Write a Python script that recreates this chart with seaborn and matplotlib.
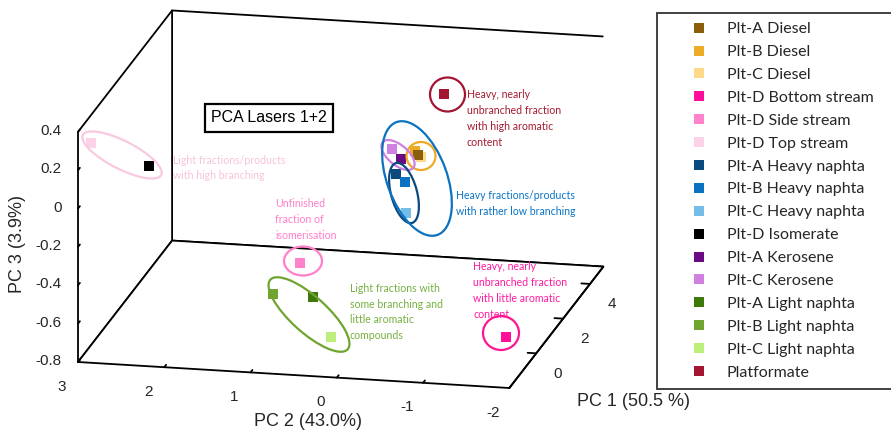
import numpy as np
import matplotlib
matplotlib.use("Agg")
import matplotlib.pyplot as plt
from matplotlib.patches import Ellipse
from matplotlib.lines import Line2D
from mpl_toolkits.mplot3d import proj3d
import seaborn as sns

# ---------------- data ----------------
samples = ["Plt-A Diesel", "Plt-B Diesel", "Plt-C Diesel", "Plt-D Bottom stream",
           "Plt-D Side stream", "Plt-D Top stream", "Plt-A Heavy naphta",
           "Plt-B Heavy naphta", "Plt-C Heavy naphta", "Plt-D Isomerate",
           "Plt-A Kerosene", "Plt-C Kerosene", "Plt-A Light naphta",
           "Plt-B Light naphta", "Plt-C Light naphta", "Platformate"]
pc1 = [3.5, 3.6, 3.4, -0.8, 0.5, -1.5, 2.5, 2.5, 2.0, -1.0, 3.0, 3.0, 0.5, 0.0, -0.5, 3.5]
pc2 = [-0.08, -0.03, -0.14, -1.78, 0.82, 2.93, 0.01, -0.085, -0.175, 2.33,
       0.03, 0.14, 0.67, 1.05, 0.305, -0.38]
pc3 = [-0.137, -0.126, -0.136, -0.649, -0.452, 0.299, -0.147, -0.187, -0.300, 0.150,
       -0.115, -0.066, -0.625, -0.574, -0.733, 0.190]
colors = ["#8B5E0A", "#EDAA25", "#FFD98A", "#FF0D9B", "#FF80CB", "#FBD2E8",
          "#0B4A7E", "#0A72C0", "#74BDE8", "#000000", "#6B0A85", "#CF80E0",
          "#3E7A0A", "#6FA52E", "#BDED7A", "#A31531"]
draw_order = [2, 1, 0, 3, 4, 5, 6, 7, 8, 9, 11, 10, 12, 13, 14, 15]

pc1_ticks = [0, 2, 4]
pc2_ticks = [3, 2, 1, 0, -1, -2]
pc3_ticks = [-0.8, -0.6, -0.4, -0.2, 0, 0.2, 0.4]
pc1_lim = (-2, 5)
pc2_lim = (-2, 3)
pc3_lim = (-0.8, 0.4)

# ---------------- style ----------------
sns.set_style("white")
palette = sns.color_palette(colors)
plt.rcParams['font.family'] = ['Liberation Sans', 'DejaVu Sans']
plt.rcParams['axes.unicode_minus'] = False
plt.rcParams['xtick.bottom'] = True
plt.rcParams['ytick.left'] = True

W, H = 891, 432
fig = plt.figure(figsize=(W / 100, H / 100), dpi=100)
ax = fig.add_subplot(projection='3d', computed_zorder=False)
ax.set_proj_type('ortho')
ax.view_init(elev=16.2, azim=-167.8)
ax.set_box_aspect((446, 442, 240))

for i in draw_order:
    ax.scatter([pc1[i]], [pc2[i]], [pc3[i]], marker='s', s=50, color=palette[i],
               depthshade=False, linewidths=0)

ax.set_xlim(*pc1_lim)
ax.set_ylim(*pc2_lim)
ax.set_zlim(*pc3_lim)
ax.set_xticks(pc1_ticks)
ax.set_yticks(pc2_ticks)
ax.set_zticks(pc3_ticks)
ax.set_xticklabels([])
ax.set_yticklabels([])
ax.set_zticklabels([])
ax.grid(False)

for axis in (ax.xaxis, ax.yaxis, ax.zaxis):
    axis.set_pane_color((1, 1, 1, 1))
    axis.pane.set_edgecolor('black')
    axis.pane.set_linewidth(1.3)
    axis.line.set_color('black')
    axis.line.set_linewidth(1.3)
    axis._axinfo['tick']['inward_factor'] = 0.0
    axis._axinfo['tick']['outward_factor'] = 0.25
    axis._axinfo['tick']['linewidth'] = {True: 1.3, False: 0.8}
ax.tick_params(axis='both', color='black', bottom=True, left=True)

# ---------------- fit projection to layout ----------------
targets = np.array([[78, H - 362], [605, H - 39]], float)
cx3 = np.array([pc1_lim[0], pc1_lim[1]], float)
cy3 = np.array([pc2_lim[1], pc2_lim[0]], float)
cz3 = np.array([pc3_lim[0], pc3_lim[1]], float)
for _ in range(3):
    fig.canvas.draw()
    xs, ys, _ = proj3d.proj_transform(cx3, cy3, cz3, ax.get_proj())
    q = ax.transData.transform(np.column_stack([xs, ys]))
    bb = ax.get_position().transformed(fig.transFigure)
    c = np.array([(bb.x0 + bb.x1) / 2, (bb.y0 + bb.y1) / 2])
    side = bb.width
    dq = q[1] - q[0]
    dt = targets[1] - targets[0]
    k = np.dot(dq, dt) / np.dot(dq, dq)
    newc = targets[0] - k * (q[0] - c)
    ns = side * k
    ax.set_position([(newc[0] - ns / 2) / W, (newc[1] - ns / 2) / H, ns / W, ns / H])
fig.canvas.draw()

# tick labels: project their 3D anchor points through the axes' own projection
M = ax.get_proj()
def label3d(x, y, z, s, **kw):
    xs, ys, _ = proj3d.proj_transform(np.array([x], float), np.array([y], float),
                                      np.array([z], float), M)
    px, py = ax.transData.transform((xs[0], ys[0]))
    fig.text(px / W, py / H, s, **kw)

tick_style = dict(fontsize=11, color='#262626', va='center')
for t in pc2_ticks:
    label3d(pc1_lim[0] - 1.2, t, pc3_lim[0] - 0.02, f"{t:g}", ha='center', **tick_style)
for t in pc1_ticks:
    label3d(t, pc2_lim[0] - 0.25, pc3_lim[0] - 0.1, f"{t:g}", ha='center', **tick_style)
for t in pc3_ticks:
    label3d(pc1_lim[0], pc2_lim[1] + 0.19, t, f"{t:g}", ha='right', **tick_style)

# ---------------- annotations ----------------
def fr(x, y):
    return x / W, 1 - y / H

fig.text(*fr(308, 422), "PC 2 (43.0%)", ha='center', va='center', fontsize=13, color='#262626')
fig.text(*fr(18, 244), "PC 3 (3.9%)", ha='center', va='center', fontsize=13, color='#262626', rotation=90)
fig.text(*fr(577, 402), "PC 1 (50.5 %)", ha='left', va='center', fontsize=13, color='#262626')

fig.text(*fr(269, 118), "PCA Lasers 1+2", ha='center', va='center', fontsize=11.5, color='black',
         bbox=dict(boxstyle='square,pad=0.38', fc='white', ec='black', lw=1.6))

ellipses = [
    (122, 155, 88, 28, -27, '#F9C9E2'),
    (303, 261, 38, 29, 0, '#FF80CB'),
    (309, 314.5, 104, 36, -42, '#6FA52E'),
    (501, 333, 36, 34, 0, '#FF1493'),
    (447.5, 94.5, 35, 34, 0, '#A31531'),
    (421, 156, 29, 28, 0, '#EDAA25'),
    (398, 155, 40, 20, -40, '#CF80E0'),
    (404, 193, 26, 62, 15, '#0B4A7E'),
    (417, 178.5, 60, 120, 20, '#0A72C0'),
]
for ex, ey, ew, eh, ang, col in ellipses:
    fig.add_artist(Ellipse((ex / 100, (H - ey) / 100), ew / 100, eh / 100, angle=ang,
                           transform=fig.dpi_scale_trans, fill=False, edgecolor=col,
                           linewidth=1.6, zorder=4))

notes = [
    ("Light fractions/products\nwith high branching", 173, 168, '#F7C3DD'),
    ("Unfinished\nfraction of\nisomerisation", 275, 219.5, '#FF7FCB'),
    ("Light fractions with\nsome branching and\nlittle aromatic\ncompounds", 350, 312, '#76B041'),
    ("Heavy, nearly\nunbranched fraction\nwith high aromatic\ncontent", 467, 118.5, '#A51C30'),
    ("Heavy fractions/products\nwith rather low branching", 456, 203.5, '#0B74C4'),
    ("Heavy, nearly\nunbranched fraction\nwith little aromatic\ncontent", 473, 290.5, '#FF1AA0'),
]
for txt, tx, ty, col in notes:
    fig.text(*fr(tx, ty), txt, ha='left', va='center', color=col, fontsize=7.6,
             family=['Lato', 'DejaVu Sans'], linespacing=1.55, zorder=5)

handles = [Line2D([], [], linestyle='none', marker='s', markersize=7,
                  markerfacecolor=palette[i], markeredgewidth=0) for i in range(len(samples))]
leg = fig.legend(handles, samples, loc='upper left',
                 bbox_to_anchor=(657 / W, 0, 0.4, 1 - 13 / H), mode='expand',
                 frameon=True, fancybox=False, edgecolor='#333333', framealpha=1,
                 borderpad=0.57, handlelength=4.11, handletextpad=-0.30, labelspacing=0.545,
                 prop={'family': ['Lato', 'DejaVu Sans'], 'size': 11.5}, borderaxespad=0)
leg.get_frame().set_linewidth(1.3)
leg.set_zorder(10)

fig.savefig("out.png", dpi=100)
